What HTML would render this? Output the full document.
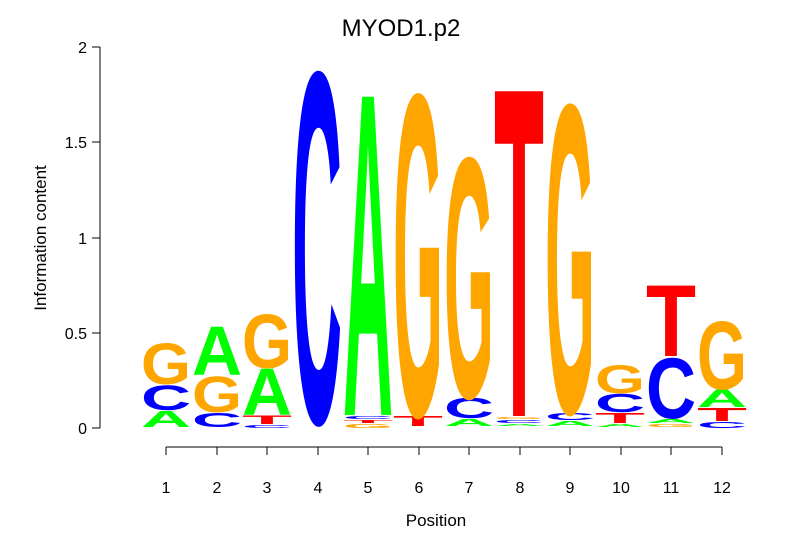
<!DOCTYPE html>
<html><head><meta charset="utf-8"><style>
html,body{margin:0;padding:0;background:#fff;}
svg{display:block;font-family:"Liberation Sans",sans-serif;}
.L{font-size:100px;font-weight:bold;}
.A{fill:#00ff00}.C{fill:#0000ff}.G{fill:#ffa500}.T{fill:#ff0000}
</style></head><body>
<svg width="806" height="559" viewBox="0 0 806 559" xmlns="http://www.w3.org/2000/svg">
<text x="401" y="36" font-size="24" text-anchor="middle">MYOD1.p2</text>
<g stroke="#000" stroke-width="1">
<line x1="100" y1="47" x2="100" y2="428"/>
<line x1="92" y1="428" x2="100" y2="428"/><line x1="92" y1="333" x2="100" y2="333"/><line x1="92" y1="238" x2="100" y2="238"/><line x1="92" y1="142" x2="100" y2="142"/><line x1="92" y1="47" x2="100" y2="47"/>
<line x1="166" y1="447" x2="722" y2="447"/>
<line x1="166" y1="447" x2="166" y2="455"/><line x1="217" y1="447" x2="217" y2="455"/><line x1="267" y1="447" x2="267" y2="455"/><line x1="318" y1="447" x2="318" y2="455"/><line x1="368" y1="447" x2="368" y2="455"/><line x1="419" y1="447" x2="419" y2="455"/><line x1="469" y1="447" x2="469" y2="455"/><line x1="520" y1="447" x2="520" y2="455"/><line x1="570" y1="447" x2="570" y2="455"/><line x1="621" y1="447" x2="621" y2="455"/><line x1="671" y1="447" x2="671" y2="455"/><line x1="722" y1="447" x2="722" y2="455"/>
</g>
<g font-size="16" text-anchor="end">
<text x="87" y="434">0</text>
<text x="87" y="339">0.5</text>
<text x="87" y="244">1</text>
<text x="87" y="148">1.5</text>
<text x="87" y="53">2</text>
</g>
<g font-size="16" text-anchor="middle">
<text x="166" y="493">1</text><text x="217" y="493">2</text><text x="267" y="493">3</text><text x="318" y="493">4</text><text x="368" y="493">5</text><text x="419" y="493">6</text><text x="469" y="493">7</text><text x="520" y="493">8</text><text x="570" y="493">9</text><text x="621" y="493">10</text><text x="671" y="493">11</text><text x="722" y="493">12</text>
<text x="436" y="526" font-size="17">Position</text>
<text transform="translate(46,238) rotate(-90)" font-size="17">Information content</text>
</g>
<g class="L">
<text class="A" transform="translate(141,427) scale(1,0.232)" textLength="50" lengthAdjust="spacingAndGlyphs">A</text>
<text class="C" transform="translate(141,410) scale(1,0.354)" textLength="50" lengthAdjust="spacingAndGlyphs">C</text>
<text class="G" transform="translate(141,384) scale(1,0.582)" textLength="50" lengthAdjust="spacingAndGlyphs">G</text>

<text class="C" transform="translate(192,427) scale(1,0.199)" textLength="50" lengthAdjust="spacingAndGlyphs">C</text>
<text class="G" transform="translate(192,412) scale(1,0.51)" textLength="50" lengthAdjust="spacingAndGlyphs">G</text>
<text class="A" transform="translate(192,375) scale(1,0.698)" textLength="50" lengthAdjust="spacingAndGlyphs">A</text>

<text class="C" transform="translate(242,428) scale(1,0.042)" textLength="50" lengthAdjust="spacingAndGlyphs">C</text>
<text class="T" transform="translate(242,424) scale(1,0.117)" textLength="50" lengthAdjust="spacingAndGlyphs">T</text>
<text class="A" transform="translate(242,415) scale(1,0.668)" textLength="50" lengthAdjust="spacingAndGlyphs">A</text>
<text class="G" transform="translate(242,368) scale(1,0.766)" textLength="50" lengthAdjust="spacingAndGlyphs">G</text>

<text class="C" transform="translate(292,422) scale(1,5.03)" textLength="50" lengthAdjust="spacingAndGlyphs">C</text>

<text class="G" transform="translate(343,428) scale(1,0.057)" textLength="50" lengthAdjust="spacingAndGlyphs">G</text>
<text class="T" transform="translate(343,423) scale(1,0.044)" textLength="50" lengthAdjust="spacingAndGlyphs">T</text>
<text class="C" transform="translate(343,419) scale(1,0.042)" textLength="50" lengthAdjust="spacingAndGlyphs">C</text>
<text class="A" transform="translate(343,415) scale(1,4.626)" textLength="50" lengthAdjust="spacingAndGlyphs">A</text>

<text class="T" transform="translate(393,426) scale(1,0.145)" textLength="50" lengthAdjust="spacingAndGlyphs">T</text>
<text class="G" transform="translate(393,415) scale(1,4.61)" textLength="50" lengthAdjust="spacingAndGlyphs">G</text>

<text class="A" transform="translate(444,426) scale(1,0.102)" textLength="50" lengthAdjust="spacingAndGlyphs">A</text>
<text class="C" transform="translate(444,418) scale(1,0.284)" textLength="50" lengthAdjust="spacingAndGlyphs">C</text>
<text class="G" transform="translate(444,397) scale(1,3.44)" textLength="50" lengthAdjust="spacingAndGlyphs">G</text>

<text class="A" transform="translate(494,426) scale(1,0.029)" textLength="50" lengthAdjust="spacingAndGlyphs">A</text>
<text class="C" transform="translate(494,423) scale(1,0.042)" textLength="50" lengthAdjust="spacingAndGlyphs">C</text>
<text class="G" transform="translate(494,419) scale(1,0.028)" textLength="50" lengthAdjust="spacingAndGlyphs">G</text>
<text class="T" transform="translate(494,416) scale(1,4.721)" textLength="50" lengthAdjust="spacingAndGlyphs">T</text>

<text class="A" transform="translate(545,426) scale(1,0.072)" textLength="50" lengthAdjust="spacingAndGlyphs">A</text>
<text class="C" transform="translate(545,420) scale(1,0.099)" textLength="50" lengthAdjust="spacingAndGlyphs">C</text>
<text class="G" transform="translate(545,412) scale(1,4.42)" textLength="50" lengthAdjust="spacingAndGlyphs">G</text>

<text class="A" transform="translate(595,427) scale(1,0.044)" textLength="50" lengthAdjust="spacingAndGlyphs">A</text>
<text class="T" transform="translate(595,423) scale(1,0.145)" textLength="50" lengthAdjust="spacingAndGlyphs">T</text>
<text class="C" transform="translate(595,412) scale(1,0.256)" textLength="50" lengthAdjust="spacingAndGlyphs">C</text>
<text class="G" transform="translate(595,393) scale(1,0.397)" textLength="50" lengthAdjust="spacingAndGlyphs">G</text>

<text class="G" transform="translate(646,427) scale(1,0.042)" textLength="50" lengthAdjust="spacingAndGlyphs">G</text>
<text class="A" transform="translate(646,423) scale(1,0.058)" textLength="50" lengthAdjust="spacingAndGlyphs">A</text>
<text class="C" transform="translate(646,418) scale(1,0.865)" textLength="50" lengthAdjust="spacingAndGlyphs">C</text>
<text class="T" transform="translate(646,356) scale(1,1.017)" textLength="50" lengthAdjust="spacingAndGlyphs">T</text>

<text class="C" transform="translate(697,428) scale(1,0.085)" textLength="50" lengthAdjust="spacingAndGlyphs">C</text>
<text class="T" transform="translate(697,421) scale(1,0.189)" textLength="50" lengthAdjust="spacingAndGlyphs">T</text>
<text class="A" transform="translate(697,407) scale(1,0.247)" textLength="50" lengthAdjust="spacingAndGlyphs">A</text>
<text class="G" transform="translate(697,389) scale(1,0.978)" textLength="50" lengthAdjust="spacingAndGlyphs">G</text>
</g>
</svg>
</body></html>
